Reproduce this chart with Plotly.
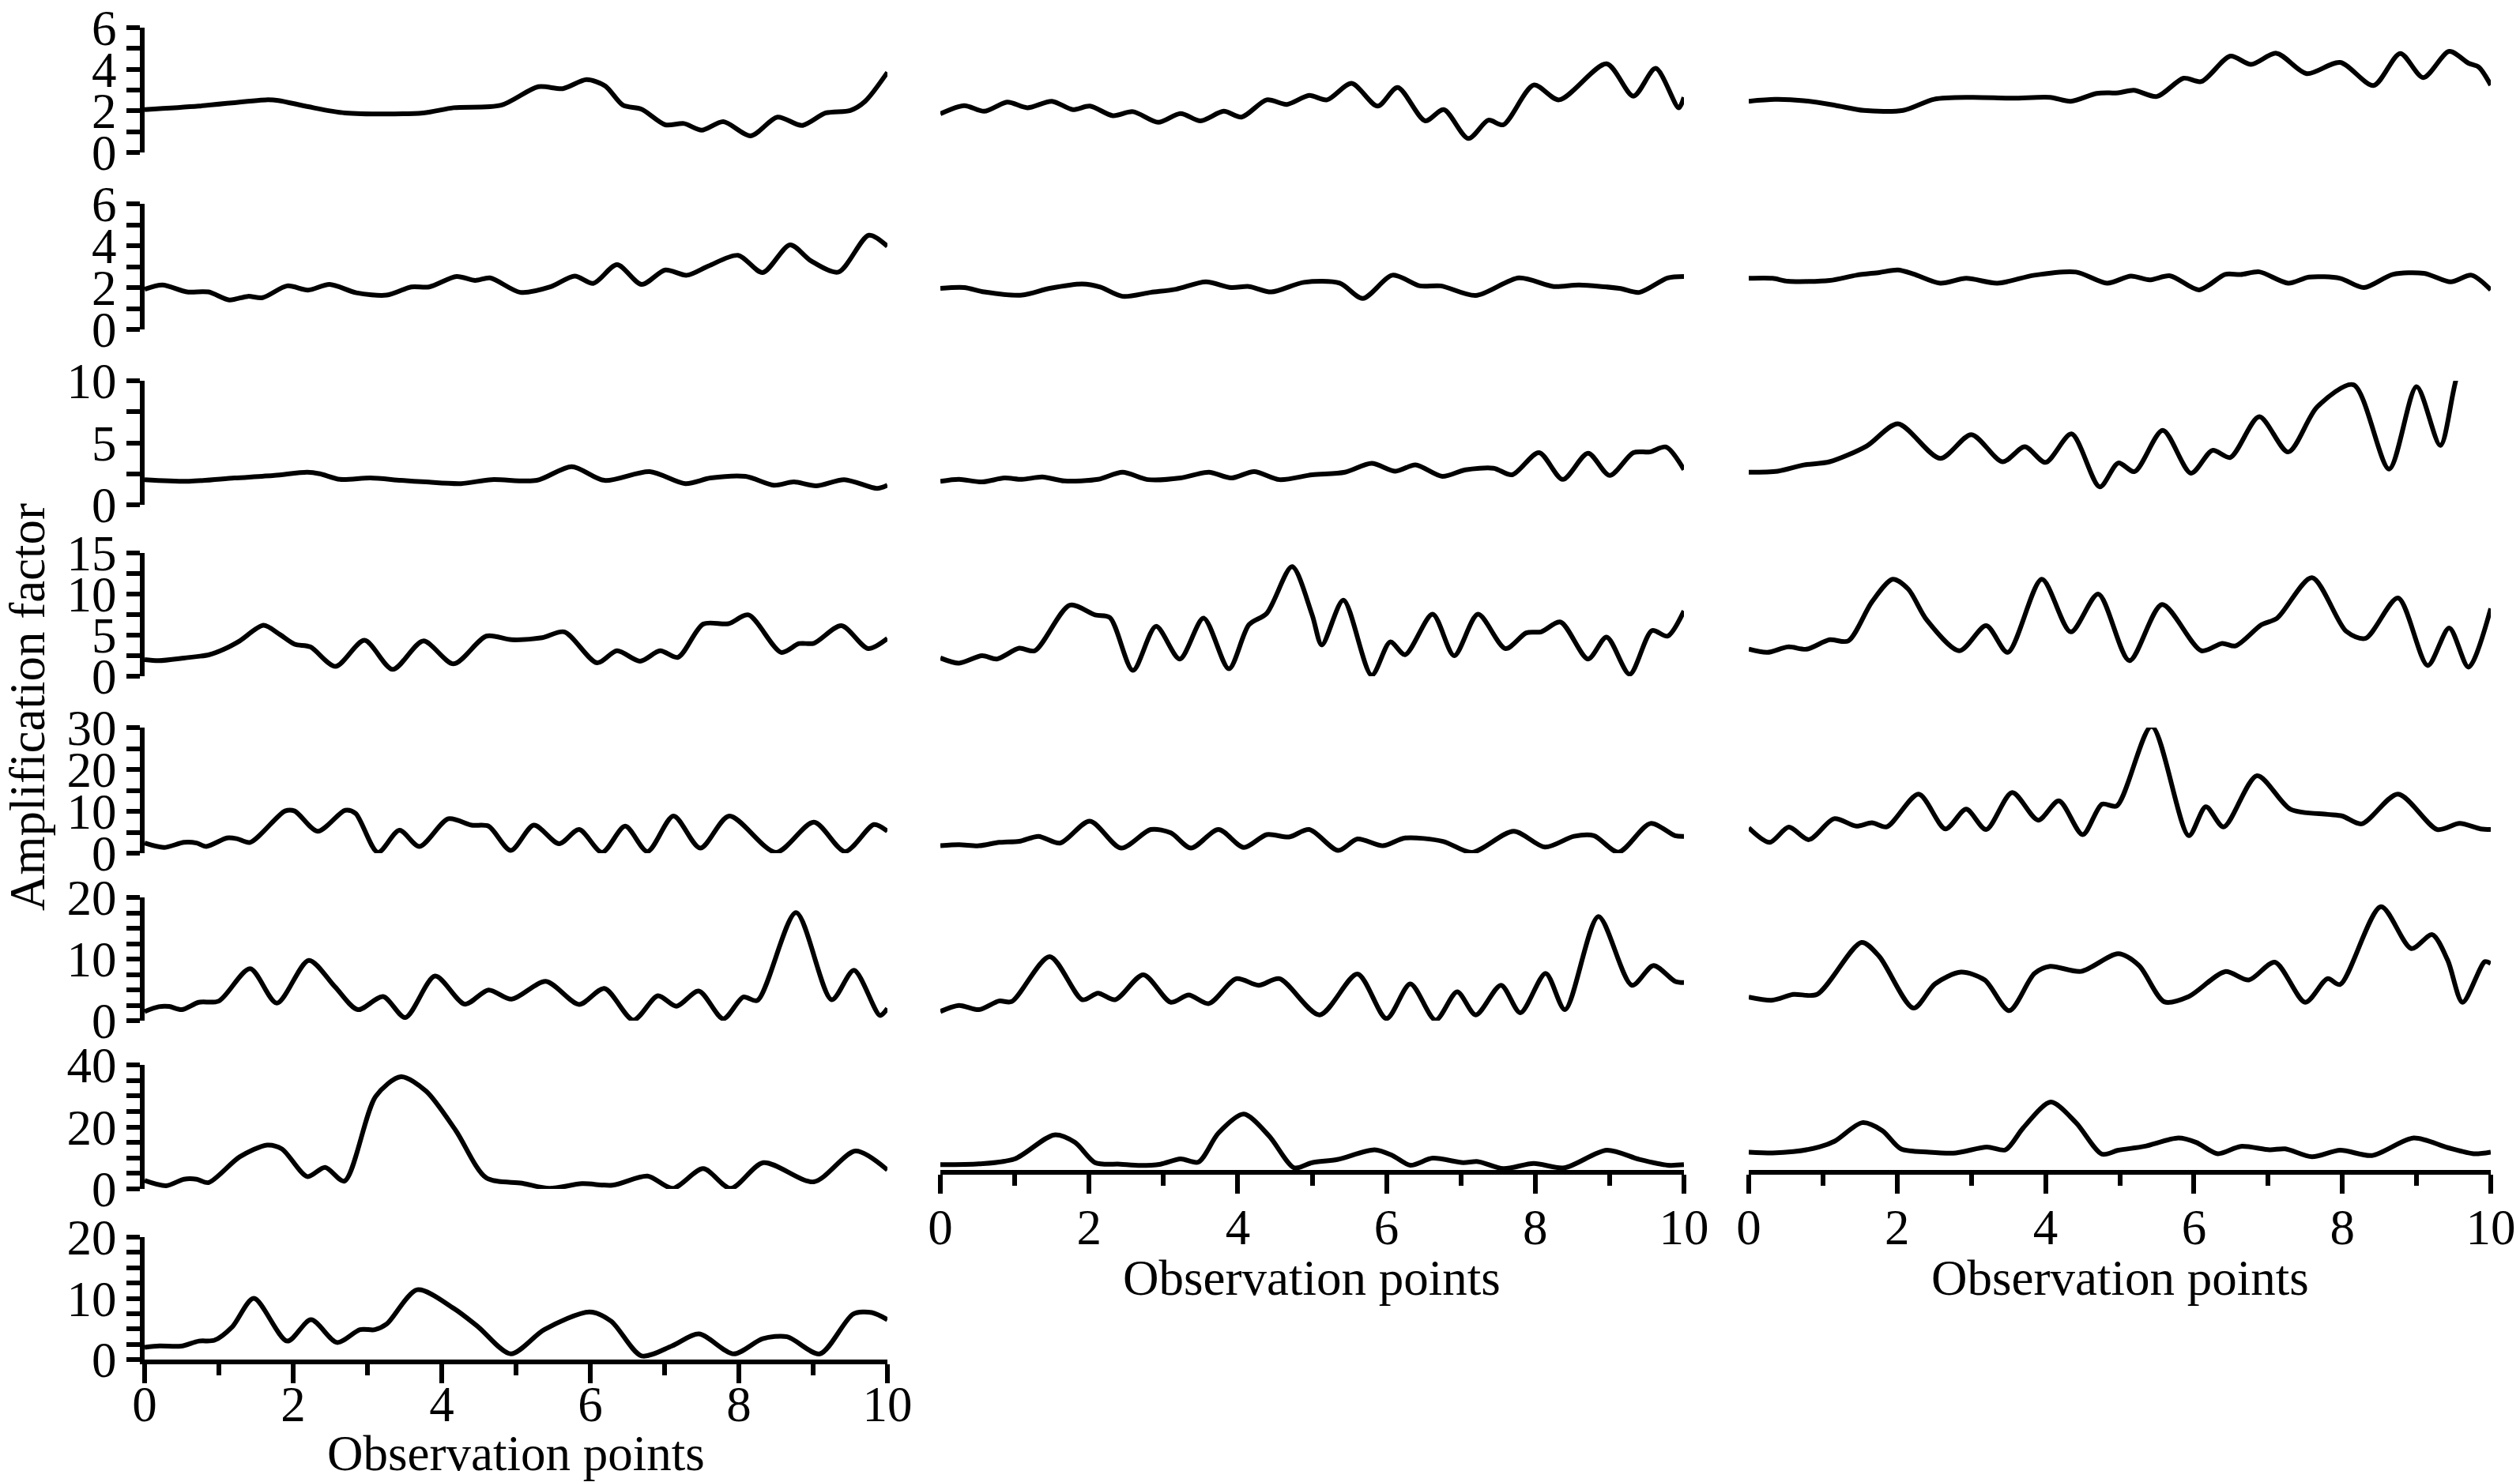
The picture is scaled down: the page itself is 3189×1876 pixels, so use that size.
import plotly.graph_objects as go

# ---- data: amplification factor along the observation line ----
# column 1 (8 panels)
c1r1_x = [0, 0.73, 1.63, 1.8, 2.2, 2.7, 3.75, 4.16, 4.8, 5.3, 5.63, 5.95, 6.2, 6.44, 6.69, 7.01, 7.26, 7.5, 7.79, 8.16, 8.52, 8.85, 9.17, 9.5, 9.7, 10]
c1r1_y = [2.06, 2.23, 2.53, 2.5, 2.2, 1.9, 1.9, 2.15, 2.27, 3.16, 3.07, 3.5, 3.2, 2.27, 2.08, 1.33, 1.39, 1.07, 1.48, 0.8, 1.7, 1.3, 1.9, 2.02, 2.46, 3.85]

c1r2_x = [0, 0.24, 0.57, 0.86, 1.14, 1.39, 1.59, 1.92, 2.2, 2.49, 2.85, 3.26, 3.59, 3.83, 4.2, 4.45, 4.65, 5.06, 5.46, 5.79, 6.04, 6.36, 6.69, 7.01, 7.3, 7.59, 7.99, 8.32, 8.69, 8.97, 9.34, 9.75, 10]
c1r2_y = [1.92, 2.12, 1.79, 1.79, 1.41, 1.58, 1.52, 2.08, 1.88, 2.15, 1.75, 1.64, 2.03, 2.03, 2.53, 2.34, 2.46, 1.77, 2.03, 2.55, 2.2, 3.09, 2.15, 2.84, 2.59, 3.03, 3.54, 2.72, 4.04, 3.28, 2.74, 4.5, 3.97]

c1r3_x = [0, 0.6, 1.21, 1.75, 2.19, 2.36, 2.63, 3.04, 3.45, 3.79, 4.26, 4.67, 5.28, 5.75, 6.19, 6.8, 7.28, 7.62, 8.09, 8.47, 8.74, 9.04, 9.42, 9.86, 10]
c1r3_y = [2.03, 1.9, 2.16, 2.37, 2.63, 2.5, 2.05, 2.16, 1.97, 1.84, 1.71, 2.03, 1.97, 3.08, 1.97, 2.68, 1.71, 2.16, 2.29, 1.58, 1.84, 1.53, 2.03, 1.32, 1.58]

c1r4_x = [0, 0.19, 0.53, 0.87, 1.07, 1.28, 1.6, 1.82, 2.02, 2.23, 2.57, 2.96, 3.34, 3.75, 4.16, 4.6, 4.94, 5.35, 5.65, 6.09, 6.36, 6.67, 6.94, 7.18, 7.52, 7.86, 8.13, 8.57, 8.81, 9.01, 9.38, 9.74, 10]
c1r4_y = [2.02, 1.9, 2.22, 2.62, 3.29, 4.29, 6.19, 5.08, 3.89, 3.57, 1.19, 4.37, 0.83, 4.29, 1.51, 4.88, 4.44, 4.68, 5.4, 1.63, 3.1, 1.83, 3.1, 2.3, 6.35, 6.39, 7.46, 2.9, 3.97, 4.01, 6.15, 3.37, 4.6]

c1r5_x = [0, 0.26, 0.53, 0.7, 0.83, 1.11, 1.24, 1.42, 1.89, 2.02, 2.33, 2.7, 2.84, 3.14, 3.43, 3.7, 4.09, 4.4, 4.63, 4.93, 5.24, 5.58, 5.85, 6.16, 6.47, 6.77, 7.12, 7.48, 7.87, 8.5, 9.01, 9.43, 9.82, 10]
c1r5_y = [2.42, 1.37, 2.58, 2.42, 1.61, 3.63, 3.47, 2.58, 10.08, 10.08, 5.24, 10.24, 9.52, 0.2, 5.48, 1.61, 8.23, 6.69, 6.45, 0.65, 6.69, 2.26, 5.65, 0.2, 6.45, 0.4, 8.87, 1.21, 8.87, 0.2, 7.42, 0.4, 6.85, 5.24]

c1r6_x = [0, 0.19, 0.33, 0.5, 0.73, 1.0, 1.42, 1.78, 2.21, 2.56, 2.87, 3.21, 3.51, 3.91, 4.31, 4.63, 4.94, 5.4, 5.85, 6.19, 6.58, 6.91, 7.16, 7.46, 7.79, 8.06, 8.25, 8.77, 9.25, 9.55, 9.9, 10]
c1r6_y = [1.49, 2.26, 2.3, 1.79, 2.98, 3.19, 8.43, 2.85, 9.79, 5.53, 1.79, 3.91, 0.51, 7.23, 2.68, 4.98, 3.49, 6.38, 2.64, 5.23, 0.1, 4.04, 2.34, 4.81, 0.3, 3.83, 3.28, 17.53, 3.4, 8.17, 0.85, 2.0]

c1r7_x = [0, 0.29, 0.53, 0.7, 0.86, 1.28, 1.65, 1.85, 2.19, 2.43, 2.69, 3.11, 3.45, 3.79, 4.19, 4.6, 5.08, 5.45, 5.89, 6.3, 6.77, 7.11, 7.52, 7.89, 8.33, 9.01, 9.57, 10]
c1r7_y = [2.71, 1.02, 3.14, 3.14, 2.03, 10.34, 14.15, 12.88, 3.98, 6.95, 2.54, 29.83, 36.19, 31.53, 18.81, 3.56, 1.86, 0.17, 1.69, 1.19, 4.15, 0.17, 6.53, 0.17, 8.47, 2.29, 12.2, 6.1]

c1r8_x = [0, 0.2, 0.49, 0.73, 0.94, 1.18, 1.47, 1.92, 2.24, 2.59, 2.9, 3.1, 3.26, 3.67, 4.16, 4.49, 4.93, 5.38, 5.99, 6.28, 6.69, 7.1, 7.46, 7.93, 8.32, 8.65, 9.09, 9.54, 9.79, 10]
c1r8_y = [2.0, 2.23, 2.19, 3.02, 3.16, 5.35, 10.0, 3.02, 6.51, 2.79, 4.88, 4.88, 5.81, 11.4, 8.37, 5.35, 0.93, 4.88, 7.77, 6.28, 0.6, 2.23, 4.19, 0.93, 3.4, 3.72, 0.93, 7.44, 7.67, 6.51]

# column 2 (7 panels)
c2r1_x = [0, 0.32, 0.59, 0.9, 1.17, 1.5, 1.78, 2.01, 2.32, 2.59, 2.93, 3.23, 3.5, 3.81, 4.05, 4.39, 4.66, 4.96, 5.2, 5.53, 5.88, 6.15, 6.52, 6.77, 7.1, 7.37, 7.57, 7.98, 8.32, 8.96, 9.32, 9.62, 9.93, 10]
c2r1_y = [1.86, 2.25, 1.98, 2.42, 2.15, 2.46, 2.06, 2.23, 1.77, 1.96, 1.45, 1.87, 1.52, 1.98, 1.7, 2.53, 2.31, 2.74, 2.53, 3.32, 2.23, 3.12, 1.52, 2.06, 0.67, 1.55, 1.33, 3.24, 2.53, 4.26, 2.71, 4.04, 2.15, 2.65]

c2r2_x = [0, 0.32, 0.59, 1.1, 1.47, 1.91, 2.15, 2.45, 2.83, 3.17, 3.57, 3.91, 4.15, 4.45, 4.89, 5.37, 5.68, 6.08, 6.45, 6.73, 7.2, 7.78, 8.25, 8.59, 9.13, 9.4, 9.78, 10]
c2r2_y = [1.96, 2.0, 1.79, 1.64, 1.96, 2.17, 2.02, 1.58, 1.77, 1.92, 2.27, 2.0, 2.05, 1.79, 2.25, 2.21, 1.48, 2.59, 2.08, 2.08, 1.62, 2.46, 2.05, 2.12, 1.96, 1.77, 2.46, 2.53]

c2r3_x = [0, 0.25, 0.56, 0.86, 1.1, 1.37, 1.67, 2.12, 2.45, 2.79, 3.23, 3.61, 3.91, 4.22, 4.56, 5.0, 5.44, 5.8, 6.12, 6.39, 6.75, 7.06, 7.44, 7.69, 8.05, 8.37, 8.71, 9.0, 9.32, 9.54, 9.76, 10]
c2r3_y = [1.89, 2.05, 1.84, 2.16, 2.05, 2.24, 1.92, 2.05, 2.63, 2.03, 2.16, 2.63, 2.16, 2.68, 2.03, 2.42, 2.63, 3.34, 2.71, 3.21, 2.29, 2.82, 2.95, 2.42, 4.21, 2.05, 4.16, 2.37, 4.21, 4.26, 4.66, 2.84]

c2r4_x = [0, 0.25, 0.56, 0.76, 1.06, 1.27, 1.74, 2.08, 2.28, 2.59, 2.9, 3.22, 3.54, 3.88, 4.15, 4.39, 4.73, 5.0, 5.13, 5.42, 5.8, 6.05, 6.25, 6.62, 6.91, 7.23, 7.6, 7.88, 8.08, 8.34, 8.71, 8.96, 9.27, 9.57, 9.78, 10]
c2r4_y = [2.22, 1.59, 2.5, 2.1, 3.41, 3.1, 8.65, 7.46, 7.14, 0.71, 6.07, 2.1, 7.06, 0.91, 6.27, 7.66, 13.33, 7.46, 3.81, 9.25, 0.12, 4.17, 2.62, 7.54, 2.5, 7.54, 3.37, 5.28, 5.4, 6.59, 2.1, 4.76, 0.24, 5.56, 4.88, 7.94]

c2r5_x = [0, 0.25, 0.52, 0.79, 1.06, 1.32, 1.61, 2.01, 2.43, 2.83, 3.1, 3.37, 3.74, 4.08, 4.39, 4.69, 4.96, 5.35, 5.61, 5.95, 6.25, 6.76, 7.15, 7.71, 8.13, 8.52, 8.79, 9.12, 9.55, 9.88, 10]
c2r5_y = [1.77, 2.02, 1.77, 2.58, 2.82, 4.03, 2.42, 7.66, 1.21, 5.65, 4.84, 1.21, 5.65, 1.37, 4.44, 3.87, 5.65, 0.65, 3.39, 1.77, 3.63, 2.82, 0.2, 5.24, 1.45, 4.03, 4.19, 0.24, 7.1, 4.19, 4.03]

c2r6_x = [0, 0.25, 0.52, 0.79, 0.96, 1.47, 1.91, 2.12, 2.35, 2.73, 3.1, 3.34, 3.61, 3.98, 4.28, 4.56, 5.1, 5.61, 6.0, 6.32, 6.66, 6.95, 7.2, 7.54, 7.8, 8.14, 8.4, 8.85, 9.3, 9.59, 9.88, 10]
c2r6_y = [1.49, 2.47, 1.79, 3.19, 3.1, 10.4, 3.4, 4.47, 3.4, 7.45, 2.98, 4.17, 2.77, 6.81, 5.74, 6.81, 0.94, 7.57, 0.34, 5.96, 0.1, 4.68, 0.94, 5.74, 1.28, 7.66, 1.79, 16.9, 5.74, 8.94, 6.38, 6.17]

c2r7_x = [0, 0.52, 1.0, 1.53, 1.81, 2.08, 2.42, 2.69, 2.96, 3.23, 3.47, 3.74, 4.08, 4.42, 4.76, 5.0, 5.34, 5.84, 6.08, 6.32, 6.62, 7.03, 7.23, 7.57, 7.98, 8.39, 8.96, 9.4, 9.78, 10]
c2r7_y = [1.7, 1.95, 3.56, 11.3, 8.9, 2.37, 1.86, 1.44, 1.86, 3.56, 2.54, 11.9, 18.0, 11.0, 0.68, 2.37, 3.39, 6.5, 4.66, 1.53, 3.8, 2.37, 2.7, 0.42, 2.1, 0.68, 6.36, 3.39, 1.53, 1.7]

# column 3 (7 panels)
c3r1_x = [0, 0.35, 0.74, 1.16, 1.55, 2.08, 2.5, 3.0, 3.56, 4.06, 4.34, 4.69, 4.98, 5.19, 5.5, 5.86, 6.1, 6.49, 6.77, 7.11, 7.52, 7.97, 8.42, 8.78, 9.09, 9.44, 9.7, 9.84, 10]
c3r1_y = [2.46, 2.55, 2.49, 2.27, 2.02, 2.02, 2.56, 2.65, 2.61, 2.65, 2.46, 2.84, 2.87, 2.99, 2.69, 3.57, 3.41, 4.63, 4.23, 4.77, 3.79, 4.33, 3.22, 4.76, 3.6, 4.86, 4.29, 4.1, 3.24]

c3r2_x = [0, 0.32, 0.53, 1.09, 1.45, 1.76, 2.01, 2.22, 2.58, 2.93, 3.35, 3.85, 4.41, 4.83, 5.15, 5.4, 5.68, 6.07, 6.42, 6.63, 6.88, 7.27, 7.55, 7.97, 8.29, 8.68, 9.1, 9.46, 9.74, 10]
c3r2_y = [2.44, 2.44, 2.3, 2.34, 2.59, 2.72, 2.84, 2.65, 2.21, 2.44, 2.21, 2.59, 2.74, 2.21, 2.55, 2.37, 2.56, 1.89, 2.63, 2.62, 2.75, 2.21, 2.5, 2.44, 2.0, 2.63, 2.68, 2.27, 2.59, 1.89]

c3r3_x = [0, 0.39, 0.74, 1.09, 1.59, 2.01, 2.58, 3.0, 3.42, 3.72, 4.0, 4.35, 4.73, 4.98, 5.2, 5.58, 5.96, 6.25, 6.49, 6.88, 7.27, 7.66, 8.15, 8.63, 9.0, 9.32, 9.56, 9.8, 10]
c3r3_y = [2.63, 2.71, 3.21, 3.47, 4.74, 6.53, 3.74, 5.66, 3.47, 4.68, 3.42, 5.71, 1.45, 3.37, 2.68, 6.0, 2.55, 4.39, 3.82, 7.1, 4.26, 7.89, 9.68, 2.89, 9.53, 4.79, 10.66, 13.0, 10.6]

c3r4_x = [0, 0.25, 0.53, 0.78, 1.09, 1.34, 1.66, 1.94, 2.15, 2.4, 2.84, 3.2, 3.49, 3.95, 4.34, 4.71, 5.13, 5.57, 6.1, 6.38, 6.56, 6.91, 7.12, 7.59, 8.05, 8.31, 8.75, 9.15, 9.44, 9.7, 10]
c3r4_y = [3.29, 2.9, 3.57, 3.29, 4.44, 4.29, 9.05, 11.8, 10.6, 6.83, 3.1, 6.15, 2.9, 11.8, 5.4, 10.0, 1.9, 8.73, 3.1, 4.0, 3.69, 6.27, 7.06, 12.0, 5.48, 4.6, 9.52, 1.31, 5.87, 1.11, 8.25]

c3r5_x = [0, 0.28, 0.54, 0.81, 1.15, 1.45, 1.66, 1.86, 2.29, 2.65, 2.93, 3.2, 3.55, 3.9, 4.18, 4.5, 4.76, 4.96, 5.43, 5.93, 6.16, 6.4, 6.85, 7.3, 7.8, 8.0, 8.26, 8.75, 9.28, 9.58, 9.86, 10]
c3r5_y = [6.05, 2.58, 6.21, 3.23, 8.23, 6.45, 7.26, 6.29, 14.1, 5.81, 10.5, 5.65, 14.5, 7.9, 12.5, 4.44, 11.7, 11.3, 30.3, 4.19, 11.1, 6.29, 18.5, 10.5, 9.27, 8.87, 7.0, 14.1, 5.65, 7.1, 5.81, 5.65]

c3r6_x = [0, 0.32, 0.6, 0.92, 1.52, 1.76, 2.22, 2.51, 2.86, 3.18, 3.51, 3.85, 4.06, 4.48, 4.98, 5.26, 5.6, 5.93, 6.42, 6.74, 7.09, 7.5, 7.8, 7.97, 8.52, 8.93, 9.21, 9.42, 9.62, 9.92, 10]
c3r6_y = [3.83, 3.32, 4.26, 4.26, 12.7, 10.4, 2.04, 5.96, 7.87, 6.6, 1.62, 7.66, 8.81, 8.0, 10.85, 8.94, 3.06, 3.91, 7.96, 6.6, 9.49, 2.98, 6.81, 5.87, 18.5, 11.7, 13.96, 9.79, 2.98, 9.57, 9.28]

c3r7_x = [0, 0.32, 0.6, 0.95, 1.16, 1.53, 1.8, 2.05, 2.43, 2.79, 3.21, 3.46, 3.7, 4.07, 4.41, 4.76, 4.98, 5.33, 5.79, 6.03, 6.32, 6.63, 7.02, 7.23, 7.59, 7.97, 8.4, 8.96, 9.42, 9.77, 10]
c3r7_y = [5.76, 5.5, 5.9, 7.4, 9.3, 15.25, 12.7, 6.8, 5.76, 5.5, 7.4, 6.5, 13.6, 21.9, 15.25, 5.1, 6.36, 7.6, 10.3, 8.9, 5.25, 7.6, 6.5, 6.8, 4.24, 6.36, 4.66, 10.3, 7.2, 5.25, 5.76]

# y-axis upper limit, major and minor tick step for each row
row_top = [6, 6, 10, 15, 30, 20, 40, 20]
row_dtick = [2, 2, 5, 5, 10, 10, 20, 10]
row_minor = [1, 1, 2.5, 2.5, 5, 2.5, 5, 2.5]

panels = [
    [(c1r1_x, c1r1_y), (c1r2_x, c1r2_y), (c1r3_x, c1r3_y), (c1r4_x, c1r4_y),
     (c1r5_x, c1r5_y), (c1r6_x, c1r6_y), (c1r7_x, c1r7_y), (c1r8_x, c1r8_y)],
    [(c2r1_x, c2r1_y), (c2r2_x, c2r2_y), (c2r3_x, c2r3_y), (c2r4_x, c2r4_y),
     (c2r5_x, c2r5_y), (c2r6_x, c2r6_y), (c2r7_x, c2r7_y)],
    [(c3r1_x, c3r1_y), (c3r2_x, c3r2_y), (c3r3_x, c3r3_y), (c3r4_x, c3r4_y),
     (c3r5_x, c3r5_y), (c3r6_x, c3r6_y), (c3r7_x, c3r7_y)],
]

# ---- layout in pixels ----
W, H = 3189, 1876
col_px = [(183, 1123), (1190, 2131), (2213, 3152)]
row_px = [(35, 193), (258, 417), (482, 639), (700, 856), (921, 1080),
          (1136, 1292), (1348, 1505), (1566, 1721)]
row7_side = (1324, 1481)   # bottom panels of columns 2 and 3 sit a bit higher

FONT = "Liberation Serif, Times New Roman, serif"
TICK_SIZE = 63
TITLE_SIZE = 63
LW = 6


def xdom(c):
    a, b = col_px[c]
    return [a / W, b / W]


def ydom(top, bot):
    return [1 - bot / H, 1 - top / H]


fig = go.Figure()
layout = {}
k = 0
for c, col in enumerate(panels):
    n_rows = len(col)
    for r, (xs, ys) in enumerate(col):
        k += 1
        bottom = r == n_rows - 1
        top_px, bot_px = row7_side if (c > 0 and bottom) else row_px[r]
        fig.add_trace(go.Scatter(
            x=xs, y=ys, mode="lines",
            line=dict(color="black", width=LW, shape="spline", smoothing=0.8),
            xaxis=f"x{k}", yaxis=f"y{k}", showlegend=False,
        ))
        xa = dict(domain=xdom(c), anchor=f"y{k}", range=[0, 10],
                  showgrid=False, zeroline=False, automargin=False)
        if bottom:
            xa.update(
                showline=True, linecolor="black", linewidth=LW,
                ticks="outside", ticklen=24, tickwidth=LW, tickcolor="black",
                dtick=2, tick0=0, ticklabeloverflow="allow",
                ticklabelstandoff=-28 if c == 0 else -12,
                minor=dict(ticks="outside", ticklen=14, tickwidth=LW,
                           tickcolor="black", dtick=1),
                tickfont=dict(family=FONT, size=TICK_SIZE, color="black"),
            )
        else:
            xa.update(visible=False)
        ya = dict(domain=ydom(top_px, bot_px), anchor=f"x{k}",
                  range=[0, row_top[r]], showgrid=False, zeroline=False,
                  automargin=False)
        if c == 0:
            ya.update(
                showline=True, linecolor="black", linewidth=LW,
                ticks="outside", ticklen=17, tickwidth=LW, tickcolor="black",
                dtick=row_dtick[r], tick0=0, ticklabeloverflow="allow",
                minor=dict(ticks="outside", ticklen=17, tickwidth=LW,
                           tickcolor="black", dtick=row_minor[r]),
                tickfont=dict(family=FONT, size=TICK_SIZE, color="black"),
            )
        else:
            ya.update(visible=False)
        layout[f"xaxis{k}"] = xa
        layout[f"yaxis{k}"] = ya

title_font = dict(family=FONT, size=TITLE_SIZE, color="black")
annotations = [
    dict(text="Amplification factor", textangle=-90,
         x=35 / W, y=1 - 895 / H, xref="paper", yref="paper",
         xanchor="center", yanchor="middle",
         showarrow=False, font=title_font),
    dict(text="Observation points", x=sum(xdom(0)) / 2, y=1 - 1840 / H,
         xref="paper", yref="paper", xanchor="center", yanchor="middle",
         showarrow=False, font=title_font),
]
for c in (1, 2):
    annotations.append(dict(
        text="Observation points", x=sum(xdom(c)) / 2, y=1 - 1618 / H,
        xref="paper", yref="paper", xanchor="center", yanchor="middle",
        showarrow=False, font=title_font,
    ))

fig.update_layout(
    **layout,
    width=W, height=H,
    margin=dict(l=0, r=0, t=0, b=0, autoexpand=False),
    paper_bgcolor="white", plot_bgcolor="white",
    font=dict(family=FONT, color="black"),
    annotations=annotations,
)

fig.write_html("out.html", config={"displayModeBar": False},
               post_script="document.body.style.margin='0';")
